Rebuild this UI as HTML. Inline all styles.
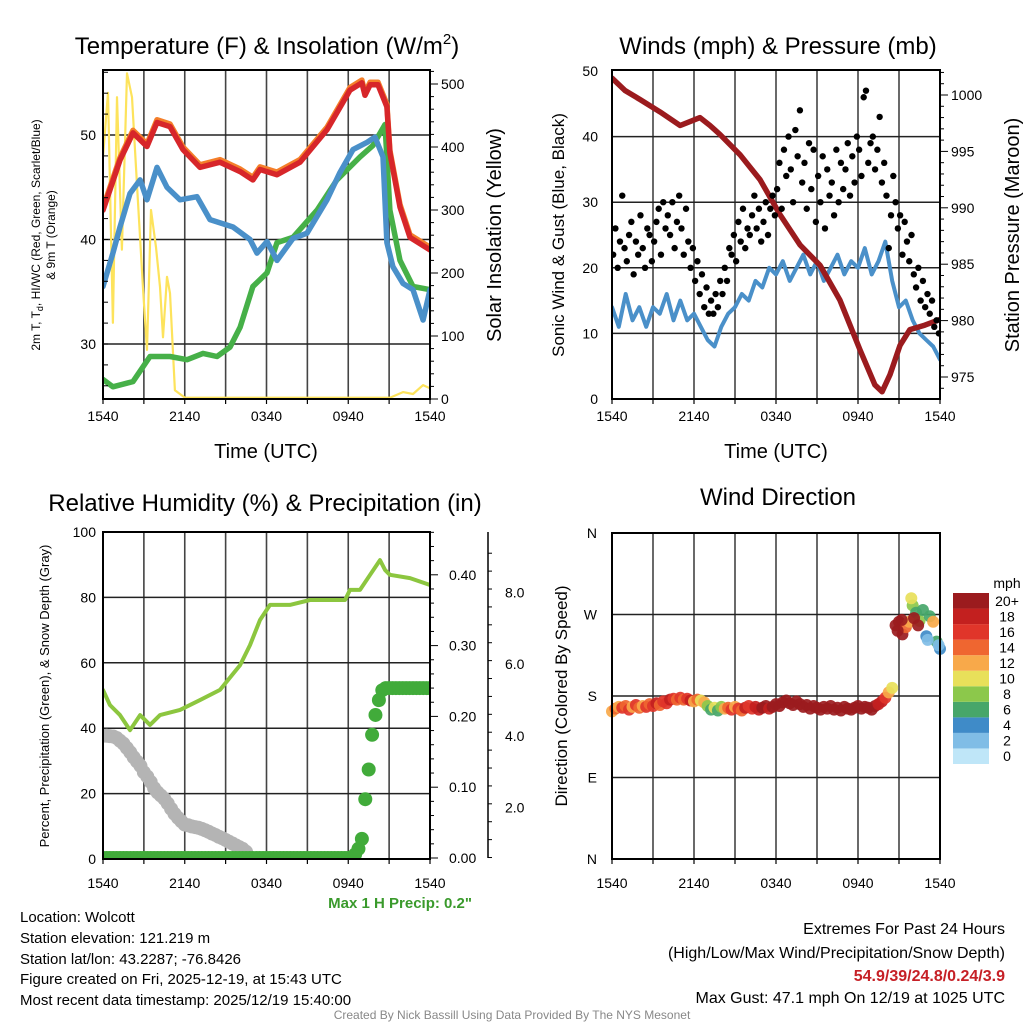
<!DOCTYPE html>
<html><head><meta charset="utf-8">
<style>
html,body{margin:0;padding:0;background:#fff;}
svg{display:block;font-family:"Liberation Sans",Arial,sans-serif;}
</style></head>
<body>
<svg id="chart" width="1024" height="1024" viewBox="0 0 1024 1024" xmlns="http://www.w3.org/2000/svg">
<defs>
<clipPath id="c1"><rect x="103" y="70" width="327" height="329"/></clipPath>
<clipPath id="c2"><rect x="612" y="70" width="328" height="329"/></clipPath>
<clipPath id="c3"><rect x="103" y="532" width="327" height="327"/></clipPath>
<clipPath id="c4"><rect x="606" y="527" width="340" height="338"/></clipPath>
</defs>
<text x="267" y="54" font-size="24" text-anchor="middle">Temperature (F) &amp; Insolation (W/m<tspan font-size="15" dy="-10">2</tspan><tspan dy="10">)</tspan></text>
<text x="778" y="54" font-size="24" text-anchor="middle">Winds (mph) &amp; Pressure (mb)</text>
<text x="265" y="511" font-size="24" text-anchor="middle">Relative Humidity (%) &amp; Precipitation (in)</text>
<text x="778" y="505" font-size="24" text-anchor="middle">Wind Direction</text>
<text x="266" y="458" font-size="20" text-anchor="middle">Time (UTC)</text>
<text x="776" y="458" font-size="20" text-anchor="middle">Time (UTC)</text>
<text transform="translate(40,235) rotate(-90)" font-size="12" text-anchor="middle">2m T, T<tspan font-size="9" dy="3">d</tspan><tspan dy="-3">, HI/WC (Red, Green, Scarlet/Blue)</tspan></text>
<text transform="translate(55,235) rotate(-90)" font-size="12" text-anchor="middle">&amp; 9m T (Orange)</text>
<text transform="translate(501,235) rotate(-90)" font-size="20" text-anchor="middle">Solar Insolation (Yellow)</text>
<text transform="translate(564,235) rotate(-90)" font-size="17" text-anchor="middle">Sonic Wind &amp; Gust (Blue, Black)</text>
<text transform="translate(1019,235) rotate(-90)" font-size="20" text-anchor="middle">Station Pressure (Maroon)</text>
<text transform="translate(49,696) rotate(-90)" font-size="13" text-anchor="middle">Percent, Precipitation (Green), &amp; Snow Depth (Gray)</text>
<text transform="translate(567,696) rotate(-90)" font-size="17" text-anchor="middle">Direction (Colored By Speed)</text>
<text x="472" y="908" font-size="15" font-weight="bold" fill="#3a9a2c" text-anchor="end">Max 1 H Precip: 0.2"</text>
<text x="1007" y="588" font-size="14" text-anchor="middle">mph</text>
<g font-size="15">
<text x="20" y="922">Location: Wolcott</text>
<text x="20" y="943">Station elevation: 121.219 m</text>
<text x="20" y="964">Station lat/lon: 43.2287; -76.8426</text>
<text x="20" y="984">Figure created on Fri, 2025-12-19, at 15:43 UTC</text>
<text x="20" y="1005">Most recent data timestamp: 2025/12/19 15:40:00</text>
</g>
<g font-size="16" text-anchor="end">
<text x="1005" y="934">Extremes For Past 24 Hours</text>
<text x="1005" y="958">(High/Low/Max Wind/Precipitation/Snow Depth)</text>
<text x="1005" y="981" font-weight="bold" fill="#c62026">54.9/39/24.8/0.24/3.9</text>
<text x="1005" y="1003">Max Gust: 47.1 mph On 12/19 at 1025 UTC</text>
</g>
<text x="512" y="1019" font-size="12" fill="#888" text-anchor="middle">Created By Nick Bassill Using Data Provided By The NYS Mesonet</text>
</svg>
<script>
// ===== Panel 1 data =====
const redH=[0,0.5,1.25,2.2,3.23,3.96,4.92,5.87,7.12,8.59,10.06,11.0,11.52,12.77,14.46,16.44,18.13,19.0,19.23,19.6,20.18,20.84,21.06,21.8,22.53,24];
const redV=[42.8,44.7,47.6,50.2,48.9,51.2,50.8,48.6,46.9,47.4,46.5,45.7,46.7,46.2,47.4,50.5,54.3,55.0,53.8,54.8,54.8,52.7,48.3,43.1,40.2,39.0];
const blueH=[0,0.73,1.25,1.98,2.72,3.23,3.96,4.7,5.65,6.9,7.85,9.54,10.79,11.3,12.04,12.77,13.94,14.97,16.44,17.39,18.35,19.38,19.96,20.55,20.84,21.28,22.02,22.75,23.49,24];
const blueV=[35.5,38.7,41.2,44.4,45.7,43.8,46.9,45.0,43.8,44.1,41.9,41.2,40.0,38.7,39.8,38.0,40.1,40.6,43.8,46.4,48.6,49.3,49.8,47.9,39.7,37.4,35.8,35.2,32.3,35.2];
const greenH=[0,0.73,2.2,3.45,4.92,6.17,7.34,8.37,9.32,10.06,11.0,12.04,12.77,13.94,15.71,17.17,18.86,19.82,20.7,21.06,21.8,22.75,24];
const greenV=[26.6,25.9,26.4,28.8,28.8,28.5,29.1,28.8,29.7,31.6,35.5,36.8,39.7,40.2,42.8,45.7,47.9,49.0,51.0,42.8,38.0,35.5,35.2];
const solarH=[0,0.37,0.73,1.03,1.39,1.76,2.13,2.5,2.94,3.23,3.52,3.89,4.18,4.4,4.7,4.92,5.28,6.02,21.06,22.02,22.75,23.49,24];
const solarV=[384,486,121,479,237,517,479,337,173,78,300,241,178,98,194,168,14,2,2,11,8,22,17];
const tempTicks=[30,40,50];
const solarTicks=[0,100,200,300,400,500];
const timeLabels=["1540","2140","0340","0940","1540"];
// ===== Panel 2 data =====
const presH=[0,0.95,2.05,3.51,4.98,6.44,7.17,7.9,9.37,10.83,12.29,13.76,15.22,16.68,18.15,19.24,19.76,20.34,21.07,21.8,22.9,24];
const presV=[1001.5,1000.4,999.6,998.5,997.3,998.0,997.3,996.5,994.7,992.5,989.4,986.7,984.9,981.8,977.4,974.3,973.7,975.2,977.8,979.2,979.6,980.1];
const windV=[14,11,16,12,14,11,14,13,16,12,15,12,13,11,9,8,11,13,14,16,15,18,17,20,19,21,18,20,22,19,21,18,20,22,19,21,20,23,19,21,24,18,14,15,12,10,9,8,6];
const gustV=[22,26,20,24,31,23, 21,25,27,19,24,22, 28,23,20,26,25,21, 24,27,29,22,30,26,
28,25,30,23,27,31, 26,22,29,24,20,23, 18,21,16,19,14,17, 13,15,13,16,14,18,
16,20,18,23,22,25, 21,27,24,29,23,26, 25,28,31,26,29,24, 27,30,25,29,31,28,
32,36,29,38,34,40, 35,30,41,37,44,33, 36,29,39,32,38,27, 34,30,37,26,35,31,
33,28,38,30,36,32, 35,39,31,37,33,40, 38,34,46,47,36,39, 40,35,38,43,33,36,
31,23,28,34,30,26, 28,22,27,24,21,25, 19,17,20,15,18,14, 16,13,15,11,12,10];
const windTicks=[0,10,20,30,40,50];
const presTicks=[975,980,985,990,995,1000];
// ===== Panel 3 data =====
const rhH=[0,0.51,1.25,1.98,2.72,3.45,4.18,5.65,7.12,8.59,10.06,10.79,11.52,12.26,13.72,15.19,16.66,17.76,18.13,18.86,19.6,20.33,20.7,21.06,22.53,24];
const rhV=[51.7,47.1,44,39.4,44,41,44,45.6,48.6,51.7,59.3,65.4,73.1,77.7,77.7,79.2,79.2,79.2,82.3,82.3,86.9,91.4,88.4,86.9,85.9,83.8];
const precipV=[0,0,0,0,0,0,0,0,0,0,0,0,0,0,0,0,0,0,0,0,0,0,0,0,0,0,0,0,0,0,0,0,0,0,0,0,0,0,0,0,0,0,0,0,0,0,0,0,0,0,0,0,0,0,0,0,0,0,0,0,0,0,0,0,0,0,0,0,0,0,0,0,0,0,0.005,0.013,0.027,0.083,0.125,0.174,0.202,0.223,0.237,0.24,0.24,0.24,0.24,0.24,0.24,0.24,0.24,0.24,0.24,0.24,0.24,0.24,0.24];
const snowV=[4.0,4.0,3.99,3.98,3.94,3.86,3.78,3.66,3.54,3.4,3.28,3.16,2.98,2.86,2.71,2.54,2.42,2.33,2.24,2.11,1.96,1.82,1.71,1.61,1.52,1.5,1.47,1.45,1.43,1.4,1.36,1.32,1.27,1.23,1.18,1.14,1.09,1.04,0.99,0.94,0.89,0.84,0.76,0.61,0,0,0,0,0,0,0,0,0,0,0,0,0,0,0,0,0,0,0,0,0,0,0,0,0,0,0,0,0,0,0,0,0,0,0,0,0,0,0,0,0,0,0,0,0,0,0,0,0,0,0,0,0];
const pctTicks=[0,20,40,60,80,100];
const precipTicks=[0,0.1,0.2,0.3,0.4];
const precipLabels=["0.00","0.10","0.20","0.30","0.40"];
const snowTicks=[2,4,6,8];
const snowLabels=["2.0","4.0","6.0","8.0"];
// ===== Panel 4 data =====
const dirV=[163,166,168,167,169,165,168,170,167,169,168,171,169,172,170,174,172,176,177,176,
178,176,177,175,174,176,175,173,169,165,167,164,168,166,
167,165,168,166,164,167,169,166,168,165,
167,169,166,168,171,169,173,175,172,170,174,171,168,170,166,169,167,165,168,166,169,
165,167,164,168,166,165,167,169,166,168,167,165,169,171,174,178,
184,189,258,262,248,256,262,280,272,263,275,246,268,262,240,232];
const spdV=[13,15,12,16,14,17,12,16,15,13,17,15,16,18,14,17,16,18,17,15,
17,14,16,18,13,15,11,12,8,7,10,6,9,12,
14,16,13,17,15,18,17,16,19,18,
20,21,19,22,20,23,21,20,22,24,21,20,22,21,20,23,22,21,20,22,21,
21,22,20,23,21,22,20,21,22,21,20,22,21,19,18,17,
13,10,22,21,20,14,13,9,7,8,6,4,7,12,6,4];
const extraDirH=[21.9,22.1,22.4,23.1,23.9,20.9,21.2];
const extraDirV=[288,266,258,242,236,252,264];
const extraSpdV=[10,21,20,3,3,22,21];
const dirTicks=[0,90,180,270,360];
const dirLabels=["N","E","S","W","N"];
const cbLabels=["0","2","4","6","8","10","12","14","16","18","20+"];
const cbColors=["#bfe6f8","#80bde6","#3f8bc8","#47a66a","#8cc84b","#e8e05a","#f8a94a","#ef6630","#e0352a","#c3201f","#9b1b1e"];

const svg=document.getElementById('chart');
const NS='http://www.w3.org/2000/svg';
function mk(tag,attrs,parent){const e=document.createElementNS(NS,tag);for(const k in attrs)e.setAttribute(k,attrs[k]);(parent||svg).appendChild(e);return e;}
function txt(x,y,s,anchor,size,parent){const t=mk('text',{x:x,y:y,'font-size':size||14,'text-anchor':anchor||'middle'},parent);t.textContent=s;return t;}

const X1=h=>103+h*327/24;
const X2=h=>612+h*328/24;
const tempY=v=>135+(50-v)*10.45;
const solarY=w=>399-w*0.63;
const windY=v=>399-v*6.56;
const presY=p=>95+(1000-p)*11.28;
const pctY=p=>859-p*3.27;
const precY=v=>858-v*708;
const snowY=v=>879-v*35.8;
const dirY=d=>859-d*(326/360);

function grid(X,x0,x1,y0,y1,hy,name){
  const g=mk('g',{});
  
  
  for(let h=3;h<24;h+=3){const l=mk('line',{x1:X(h),x2:X(h),y1:y0,y2:y1,stroke:'#444','stroke-width':1.6},g);
    
    }
  hy.forEach(y=>{const l=mk('line',{x1:x0,x2:x1,y1:y,y2:y,stroke:'#222','stroke-width':1.5},g);
    
    });
}
function frame(x0,y0,x1,y1,name){
  const r=mk('rect',{x:x0,y:y0,width:x1-x0,height:y1-y0,fill:'none',stroke:'#000','stroke-width':2});
  
  
}
function xTicks(X,y,off,name){
  const g=mk('g',{});
  
  
  for(let h=0;h<=24;h+=3){mk('line',{x1:X(h),x2:X(h),y1:y,y2:y+5,stroke:'#000','stroke-width':1.2},g);}
  timeLabels.forEach((s,i)=>{const t=txt(X(i*6),y+off,s,'middle',14,g);
    
    });
}
function line(H,V,X,Y,color,w,clip,name){
  const pts=H.map((h,i)=>X(h).toFixed(1)+','+Y(V[i]).toFixed(1)).join(' ');
  const p=mk('polyline',{points:pts,fill:'none',stroke:color,'stroke-width':w,'stroke-linejoin':'round','stroke-linecap':'round','clip-path':'url(#'+clip+')'});
  
  
  return p;
}

// ===== Panel 1 =====
grid(X1,103,430,70,399,tempTicks.map(tempY),'temperature-grid');
line(solarH,solarV,X1,solarY,'#fde35c',2.2,'c1','solar-insolation-line');
line(greenH,greenV,X1,tempY,'#46b048',5.5,'c1','dewpoint-line');
line(redH,redV.map(v=>v+0.25),X1,tempY,'#f47f2a',5.5,'c1','temp-9m-line');
line(blueH,blueV,X1,tempY,'#4a90c9',5.5,'c1','wind-chill-line');
line(redH,redV,X1,tempY,'#d7262a',5.5,'c1','temp-2m-line');
frame(103,70,430,399,'temperature-plot-frame');
xTicks(X1,399,22,'temperature-x-axis');
{const g=mk('g',{});
 
 
 tempTicks.forEach(v=>{const t=txt(96,tempY(v)+5,String(v),'end',14,g);
  
  });
 for(let v=26;v<=56;v+=2){mk('line',{x1:103,x2:108,y1:tempY(v),y2:tempY(v),stroke:'#000','stroke-width':1},g);}
}
{const g=mk('g',{});
 
 
 for(let w=0;w<=520;w+=20){const maj=w%100===0;mk('line',{x1:430,x2:maj?438:434,y1:solarY(w),y2:solarY(w),stroke:'#000','stroke-width':1},g);}
 solarTicks.forEach(w=>{const t=txt(441,solarY(w)+5,String(w),'start',14,g);
  
  });
}

// ===== Panel 2 =====
grid(X2,612,940,70,399,[10,20,30,40].map(windY),'winds-grid');
line(windV.map((v,i)=>i*0.5),windV,X2,windY,'#4a90c9',4,'c2','sonic-wind-line');
line(presH,presV,X2,presY,'#9b1b1e',5.5,'c2','pressure-line');
{const g=mk('g',{'clip-path':'url(#c2)'});
 
 
 gustV.forEach((v,i)=>{const c=mk('circle',{cx:X2(i/6+1/12),cy:windY(v),r:3.2,fill:'#000'},g);
  
  });
}
frame(612,70,940,399,'winds-plot-frame');
xTicks(X2,399,22,'winds-x-axis');
{const g=mk('g',{});
 
 
 windTicks.forEach(v=>{const t=txt(598,windY(v)+5,String(v),'end',14,g);
  
  });
}
{const g=mk('g',{});
 
 
 for(let p=974;p<=1002;p++){const maj=p%5===0;mk('line',{x1:940,x2:maj?948:944,y1:presY(p),y2:presY(p),stroke:'#000','stroke-width':1},g);}
 presTicks.forEach(p=>{const t=txt(951,presY(p)+5,String(p),'start',14,g);
  
  });
}

// ===== Panel 3 =====
grid(X1,103,430,532,859,[20,40,60,80].map(pctY),'humidity-grid');
{const g=mk('g',{'clip-path':'url(#c3)'});
 
 
 snowV.forEach((v,i)=>{const c=mk('circle',{cx:X1(i*0.25),cy:snowY(v),r:7,fill:'#b4b4b4'},g);
  
  });
}
line(rhH,rhV,X1,pctY,'#8cc63f',4,'c3','relative-humidity-line');
{const g=mk('g',{'clip-path':'url(#c3)'});
 
 
 precipV.forEach((v,i)=>{const c=mk('circle',{cx:X1(i*0.25),cy:precY(v),r:7,fill:'#41ab3a'},g);
  
  });
}
frame(103,532,430,859,'humidity-plot-frame');
xTicks(X1,859,29,'humidity-x-axis');
{const g=mk('g',{});
 
 
 pctTicks.forEach(v=>{const t=txt(96,pctY(v)+5,String(v),'end',14,g);
  
  });
}
{const g=mk('g',{});
 
 
 for(let k=0;k<=23;k++){const v=k*0.02;const maj=k%5===0;mk('line',{x1:430,x2:maj?438:434,y1:precY(v),y2:precY(v),stroke:'#000','stroke-width':1},g);}
 precipTicks.forEach((v,i)=>{const t=txt(449,precY(v)+5,precipLabels[i],'start',14,g);
  
  });
}
{const g=mk('g',{});
 
 
 mk('line',{x1:488,x2:488,y1:532,y2:858,stroke:'#000','stroke-width':1.5},g);
 for(let v=0.6;v<=9.4;v+=0.5){const maj=Math.abs(v-Math.round(v))<0.01&&Math.round(v)%2===0;mk('line',{x1:488,x2:maj?496:492,y1:snowY(v),y2:snowY(v),stroke:'#000','stroke-width':1},g);}
 snowTicks.forEach((v,i)=>{const t=txt(505,snowY(v)+5,snowLabels[i],'start',14,g);
  
  });
}

// ===== Panel 4 =====
grid(X2,612,940,533,859,[90,180,270].map(dirY),'direction-grid');
function spdColor(s){return cbColors[Math.min(10,Math.floor(s/2))];}
{const g=mk('g',{'clip-path':'url(#c4)'});
 
 
 dirV.forEach((d,i)=>{const c=mk('circle',{cx:X2(i*0.25),cy:dirY(d),r:6,fill:spdColor(spdV[i]),'fill-opacity':0.92},g);
  
  });
 extraDirH.forEach((h,i)=>{const c=mk('circle',{cx:X2(h),cy:dirY(extraDirV[i]),r:6,fill:spdColor(extraSpdV[i]),'fill-opacity':0.92},g);
  
  });
}
frame(612,533,940,859,'direction-plot-frame');
xTicks(X2,859,29,'direction-x-axis');
{const g=mk('g',{});
 
 
 dirTicks.forEach((d,i)=>{const t=txt(597,dirY(d)+5,dirLabels[i],'end',14,g);
  
  });
}
{const g=mk('g',{});
 
 
 const bh=171/11;
 cbColors.forEach((c,i)=>{const y=764-(i+1)*bh;
  const r=mk('rect',{x:953,y:y,width:36,height:bh,fill:c},g);
  
  
  const t=txt(1007,y+bh/2+5,cbLabels[i],'middle',14,g);
  
  });
}
</script>
</body></html>
